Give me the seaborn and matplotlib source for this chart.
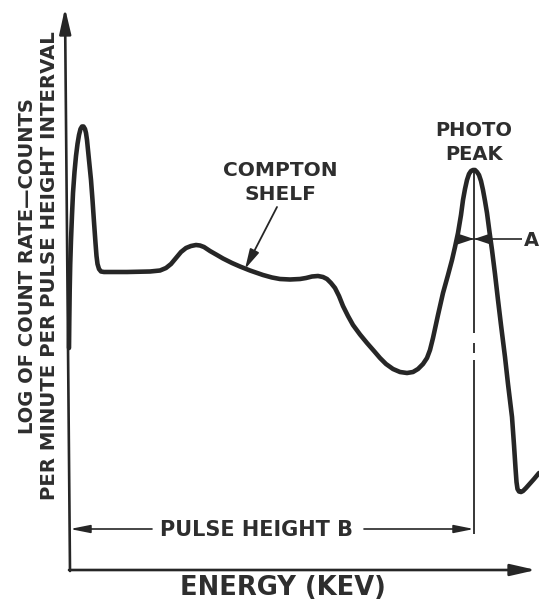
import matplotlib
matplotlib.use("Agg")
import matplotlib.pyplot as plt
import seaborn as sns
import pandas as pd

# Spectrum (energy along x, log count rate drawn downward in image units)
energy = [69, 69.3, 69.7, 70.2, 71, 72, 73, 74.5, 76, 77.5, 79, 80.5, 82, 83.5, 85, 86, 87,
          88, 89.5, 91, 92.5, 94, 95.5, 96.5, 97.5, 99, 101, 104, 127, 150, 160, 166, 171,
          176, 181, 186, 191, 196, 200, 204, 210, 217, 223, 232, 240, 250, 263, 272, 280,
          290, 300, 306, 312, 318, 323, 327, 331, 335, 339, 343, 348, 353, 360, 367, 374,
          380, 386, 393, 400, 407, 413, 418, 423, 427, 430, 433, 438, 443, 448, 452, 455,
          458, 461, 463, 465, 467, 469, 471, 473, 475, 477, 479, 481, 483, 485, 487, 489.5,
          492, 495, 498, 501, 505, 508, 512, 514, 515.5, 516.5, 517.5, 519, 521, 523, 526,
          530, 534, 539]
log_rate = [348, 320, 290, 265, 240, 215, 193, 172, 156, 144, 135, 129, 126.5, 126.5, 129,
            133, 140, 150, 165, 180, 200, 222, 243, 256, 264, 269, 271.5, 272, 272, 271.5,
            270.5, 268, 264, 258, 252, 248, 246, 245, 245.5, 247, 251, 255, 258.5, 263,
            266.5, 270.5, 275, 277.5, 279, 279.5, 279, 278, 276.5, 276, 277, 279, 283, 288,
            296, 306, 316, 325, 334.5, 343, 351, 358, 364, 369, 372, 373, 372, 369, 364,
            358, 350, 338, 315, 293, 275, 260, 247, 233, 215, 200, 189, 180, 174, 171, 170,
            170, 172, 175, 181, 190, 201, 213, 232, 250, 274, 300, 325, 357, 384, 417, 445,
            468, 482, 489, 491.5, 492, 491, 488, 483.5, 479, 473]

y_label_1 = "LOG OF COUNT RATE\u2014COUNTS"
y_label_2 = "PER MINUTE PER PULSE HEIGHT INTERVAL"
x_label = "ENERGY (KEV)"
compton_label = ["COMPTON", "SHELF"]
photo_label = ["PHOTO", "PEAK"]
pulse_label = "PULSE HEIGHT B"
width_label = "A"

sns.set_theme(style="white")
plt.rcParams['font.family'] = ['DejaVu Sans']

INK = '#262626'
fig = plt.figure(figsize=(5.39, 6.02), dpi=100)
fig.patch.set_facecolor('white')
ax = fig.add_axes([0, 0, 1, 1])

df = pd.DataFrame({'energy': energy, 'log_rate': log_rate})
sns.lineplot(data=df, x='energy', y='log_rate', sort=False, estimator=None, ax=ax,
             color=INK, lw=3.3, solid_capstyle='round', solid_joinstyle='round')

ax.set_xlim(0, 539)
ax.set_ylim(602, 0)
ax.axis('off')

def arrow(x0, y0, x1, y1, lw=1.3, hl=1.0, hw=0.22, ms=12):
    ax.annotate('', xy=(x1, y1), xytext=(x0, y0),
                arrowprops=dict(arrowstyle=f'-|>,head_length={hl},head_width={hw}',
                                lw=lw, color=INK, mutation_scale=ms,
                                shrinkA=0, shrinkB=0))

def seg(x0, y0, x1, y1, lw=1.3):
    ax.plot([x0, x1], [y0, y1], color=INK, lw=lw, solid_capstyle='butt')

TXT = dict(ha='center', va='center', color='#2e2e2e', fontweight='bold')

# axes with arrows
arrow(70, 571, 65, 8, lw=1.9, hl=1.1, hw=0.25, ms=14)
arrow(69, 570, 536, 570, lw=1.9, hl=1.1, hw=0.25, ms=14)

# center line through photo peak
seg(474, 170, 474, 333)
seg(474, 343, 474, 353)
seg(474, 360, 474, 534)

# pulse height B dimension
arrow(152, 529, 70, 529, lw=1.2, hl=1.0, hw=0.2, ms=12)
arrow(364, 529, 474, 529, lw=1.2, hl=1.0, hw=0.2, ms=12)
ax.text(257, 530, pulse_label, fontsize=15, **TXT)

# width A
seg(458, 239, 522, 239, lw=1.2)
arrow(458, 239, 474, 239, lw=1.2, hl=0.9, hw=0.3, ms=11)
arrow(490, 239, 474, 239, lw=1.2, hl=0.9, hw=0.3, ms=11)
ax.text(531, 241, width_label, fontsize=14, **TXT)

# compton annotation
arrow(277, 207, 245, 269, lw=1.3, hl=1.0, hw=0.25, ms=12)
ax.text(280, 170, compton_label[0], fontsize=14.5, **TXT)
ax.text(280, 194, compton_label[1], fontsize=14.5, **TXT)

# photo peak
ax.text(474, 131, photo_label[0], fontsize=14, **TXT)
ax.text(474, 155, photo_label[1], fontsize=14, **TXT)

# axis labels
ax.text(283, 588, x_label, fontsize=18.5, **TXT)
ax.text(28, 266, y_label_1, rotation=90, fontsize=14, **TXT)
ax.text(50, 266, y_label_2, rotation=90, fontsize=14.2, **TXT)

fig.savefig('out.png', dpi=100, facecolor='white')
